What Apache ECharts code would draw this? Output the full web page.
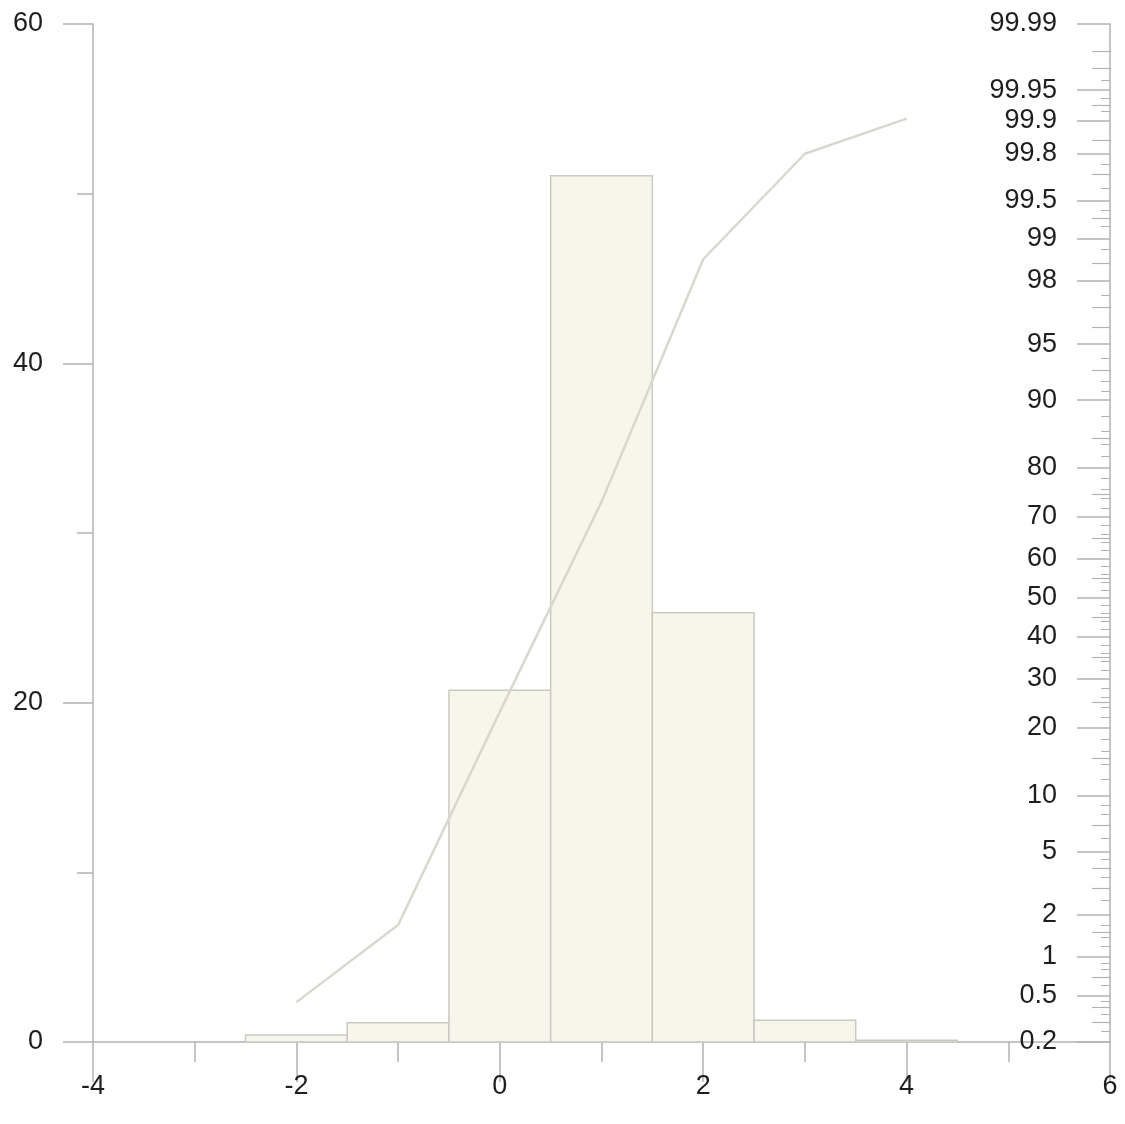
<!DOCTYPE html>
<html>
<head>
<meta charset="utf-8">
<title>Histogram with cumulative probability</title>
<script src="https://cdn.jsdelivr.net/npm/echarts@6/dist/echarts.min.js"></script>
<style>
  html, body { margin: 0; padding: 0; background: #ffffff; }
  #chart { width: 1125px; height: 1124px; }
</style>
</head>
<body>
<div id="chart"></div>
<script>
// Histogram bins (unit width, centred on the integers) and their share in percent
const binCenters = [-2, -1, 0, 1, 2, 3, 4];
const binPercent = [0.41, 1.14, 20.73, 51.06, 25.3, 1.28, 0.1];

// Cumulative percentage drawn on the probability (right) axis
const cumulativePercent = [0.44, 1.7, 23.0, 73.3, 98.59, 99.8, 99.905];

// Left axis (frequency, %) and bottom axis ranges
const leftMin = 0, leftMax = 60, leftStep = 20;
const xMin = -4, xMax = 6, xStep = 2;

// Probability axis: labelled ticks and the finer scale marks between them
const probLabels = [0.2, 0.5, 1, 2, 5, 10, 20, 30, 40, 50, 60, 70, 80, 90, 95, 98, 99, 99.5, 99.8, 99.9, 99.95, 99.99];
const probMidTicks = [0.3, 0.4, 0.7, 1.5, 3, 4, 7, 15, 25, 35, 45, 55, 65, 75, 85, 93, 96, 97, 98.5, 99.3, 99.7, 99.85, 99.93, 99.97, 99.98];
const probFineTicks = [0.25, 0.35, 0.45, 0.6, 0.8, 0.9, 1.2, 1.4, 1.7, 2.5, 3.5, 4.5, 6, 8, 9,
  12, 14, 16, 18, 22, 24, 26, 28, 32, 34, 36, 38, 42, 44, 46, 48, 52, 54, 56, 58,
  62, 64, 66, 68, 72, 74, 76, 78, 82, 84, 86, 88, 91, 92, 94, 97.5, 98.8, 99.2, 99.4, 99.6, 99.75, 99.92, 99.94, 99.96];

// Inverse of the standard normal CDF (Acklam's rational approximation),
// used as the transform of the probability axis.
function probit(p) {
  const a = [-3.969683028665376e+01, 2.209460984245205e+02, -2.759285104469687e+02, 1.383577518672690e+02, -3.066479806614716e+01, 2.506628277459239e+00];
  const b = [-5.447609879822406e+01, 1.615858368580409e+02, -1.556989798598866e+02, 6.680131188771972e+01, -1.328068155288572e+01];
  const c = [-7.784894002430293e-03, -3.223964580411365e-01, -2.400758277161838e+00, -2.549732539343734e+00, 4.374664141464968e+00, 2.938163982698783e+00];
  const d = [7.784695709041462e-03, 3.224671290700398e-01, 2.445134137142996e+00, 3.754408661907416e+00];
  const pl = 0.02425, ph = 1 - pl;
  let q, r;
  if (p < pl) {
    q = Math.sqrt(-2 * Math.log(p));
    return (((((c[0]*q+c[1])*q+c[2])*q+c[3])*q+c[4])*q+c[5]) / ((((d[0]*q+d[1])*q+d[2])*q+d[3])*q+1);
  }
  if (p <= ph) {
    q = p - 0.5; r = q * q;
    return (((((a[0]*r+a[1])*r+a[2])*r+a[3])*r+a[4])*r+a[5])*q / (((((b[0]*r+b[1])*r+b[2])*r+b[3])*r+b[4])*r+1);
  }
  q = Math.sqrt(-2 * Math.log(1 - p));
  return -(((((c[0]*q+c[1])*q+c[2])*q+c[3])*q+c[4])*q+c[5]) / ((((d[0]*q+d[1])*q+d[2])*q+d[3])*q+1);
}
const z = pct => probit(pct / 100);

const zMin = z(probLabels[0]);
const zMax = z(probLabels[probLabels.length - 1]);
const labelZ = probLabels.map(z);

const FONT = '"Liberation Sans", Arial, Helvetica, sans-serif';
const FONT_SIZE = 27;
const TEXT = '#1e1e1e';
const AXIS = '#b2b2b2';

const histData = binCenters.map((c, i) => [c, binPercent[i]]);
const cumData = binCenters.map((c, i) => [c, z(cumulativePercent[i])]);

// Extra right-hand axes that only carry the finer probability scale marks
function probTickAxis(values, length, width) {
  return {
    type: 'value', position: 'right', offset: 0, min: zMin, max: zMax,
    splitLine: { show: false },
    axisLine: { show: false, onZero: false },
    axisLabel: { show: false },
    axisTick: { show: true, inside: true, length: length, customValues: values.map(z), lineStyle: { color: AXIS, width: width } }
  };
}

const option = {
  animation: false,
  backgroundColor: '#ffffff',
  grid: { left: 93, right: 15, top: 24, bottom: 82, containLabel: false },
  xAxis: {
    type: 'value', min: xMin, max: xMax, interval: xStep,
    axisLine: { show: true, onZero: false, lineStyle: { color: AXIS, width: 1.5 } },
    axisTick: { show: true, length: 40, lineStyle: { color: AXIS, width: 1.5 } },
    minorTick: { show: true, splitNumber: 2, length: 20, lineStyle: { color: AXIS, width: 1.5 } },
    axisLabel: { color: TEXT, fontFamily: FONT, fontSize: FONT_SIZE, margin: 31 },
    splitLine: { show: false }
  },
  yAxis: [
    {
      type: 'value', position: 'left', min: leftMin, max: leftMax, interval: leftStep,
      axisLine: { show: true, onZero: false, lineStyle: { color: AXIS, width: 1.5 } },
      axisTick: { show: true, length: 30, lineStyle: { color: AXIS, width: 1.5 } },
      minorTick: { show: true, splitNumber: 2, length: 16, lineStyle: { color: AXIS, width: 1.5 } },
      axisLabel: { color: TEXT, fontFamily: FONT, fontSize: FONT_SIZE, margin: 50 },
      splitLine: { show: false }
    },
    {
      type: 'value', position: 'right', offset: 0, min: zMin, max: zMax,
      splitLine: { show: false },
      axisLine: { show: true, onZero: false, lineStyle: { color: AXIS, width: 1.5 } },
      axisTick: { show: true, inside: true, length: 33, customValues: labelZ, lineStyle: { color: AXIS, width: 1.5 } },
      axisLabel: {
        show: true, inside: true, margin: 53, customValues: labelZ,
        color: TEXT, fontFamily: FONT, fontSize: FONT_SIZE,
        formatter: v => {
          const i = labelZ.findIndex(t => Math.abs(t - v) < 1e-6);
          return i >= 0 ? String(probLabels[i]) : '';
        }
      }
    },
    probTickAxis(probMidTicks, 18, 1.2),
    probTickAxis(probFineTicks, 9, 1)
  ],
  series: [
    {
      name: 'Frequency',
      type: 'custom',
      xAxisIndex: 0, yAxisIndex: 0,
      data: histData,
      renderItem: (params, api) => {
        const c = api.value(0), v = api.value(1);
        const p0 = api.coord([c - 0.5, v]);
        const p1 = api.coord([c + 0.5, 0]);
        return {
          type: 'rect',
          shape: { x: p0[0], y: p0[1], width: p1[0] - p0[0], height: p1[1] - p0[1] },
          style: { fill: '#f6f6ea', stroke: '#cacac2', lineWidth: 1.5 }
        };
      },
      z: 2
    },
    {
      name: 'Cumulative',
      type: 'line',
      xAxisIndex: 0, yAxisIndex: 1,
      data: cumData,
      showSymbol: false,
      lineStyle: { color: '#d8d8ce', width: 2.5 },
      z: 3
    }
  ]
};

const chart = echarts.init(document.getElementById('chart'), null, { renderer: 'canvas' });
chart.setOption(option);
</script>
</body>
</html>
